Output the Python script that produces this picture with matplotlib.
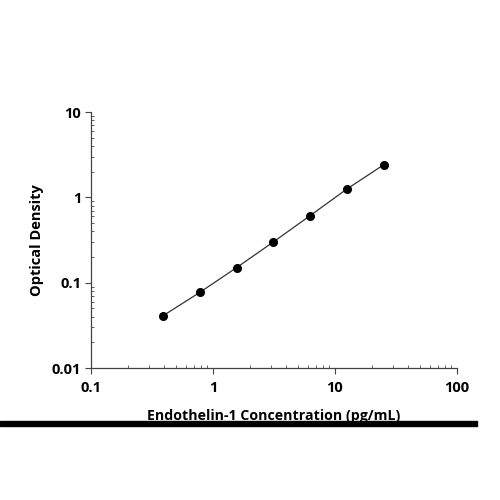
import matplotlib
matplotlib.use("Agg")
import matplotlib.pyplot as plt
from matplotlib.patches import Rectangle
from matplotlib.ticker import LogLocator, NullFormatter, FixedLocator, FixedFormatter

# Standard curve data
conc = [0.39, 0.78, 1.56, 3.125, 6.25, 12.5, 25]
od = [0.041, 0.077, 0.15, 0.30, 0.61, 1.25, 2.4]

x_ticks = [0.1, 1, 10, 100]
x_labels = ["0.1", "1", "10", "100"]
y_ticks = [0.01, 0.1, 1, 10]
y_labels = ["0.01", "0.1", "1", "10"]

plt.rcParams['font.family'] = ['Open Sans', 'DejaVu Sans']

fig = plt.figure(figsize=(5, 5), dpi=100)
ax = fig.add_axes([0.182, 0.264, 0.732, 0.512])

ax.plot(conc, od, color='#333333', linewidth=0.9, marker='o',
        markersize=5.5, markerfacecolor='black', markeredgecolor='black')

ax.set_xscale('log')
ax.set_yscale('log')
ax.set_xlim(0.1, 100)
ax.set_ylim(0.01, 10)

ax.xaxis.set_major_locator(FixedLocator(x_ticks))
ax.xaxis.set_major_formatter(FixedFormatter(x_labels))
ax.yaxis.set_major_locator(FixedLocator(y_ticks))
ax.yaxis.set_major_formatter(FixedFormatter(y_labels))
ax.xaxis.set_minor_locator(LogLocator(base=10, subs=range(2, 10)))
ax.yaxis.set_minor_locator(LogLocator(base=10, subs=range(2, 10)))
ax.xaxis.set_minor_formatter(NullFormatter())
ax.yaxis.set_minor_formatter(NullFormatter())

for s in ['top', 'right']:
    ax.spines[s].set_visible(False)
for s in ['left', 'bottom']:
    ax.spines[s].set_color('#444444')
    ax.spines[s].set_linewidth(0.9)

ax.tick_params(which='major', direction='out', length=4, width=0.8,
               color='#444444', labelsize=10.5)
ax.tick_params(axis='x', which='major', pad=5)
ax.tick_params(axis='y', which='major', pad=3)
ax.tick_params(which='minor', direction='in', length=2.5, width=0.6,
               color='#444444')
for lab in ax.get_xticklabels() + ax.get_yticklabels():
    lab.set_fontweight('bold')

ax.set_xlabel("Endothelin-1 Concentration (pg/mL)", fontsize=10.2,
              fontweight='bold', labelpad=10.5)
ax.set_ylabel("Optical Density", fontsize=10.5, fontweight='bold',
              labelpad=6)

# thick bar under the chart
fig.patches.append(Rectangle((0.0, 0.148), 0.954, 0.010,
                             transform=fig.transFigure, color='black'))

fig.savefig("out.png", dpi=100, facecolor='white')
